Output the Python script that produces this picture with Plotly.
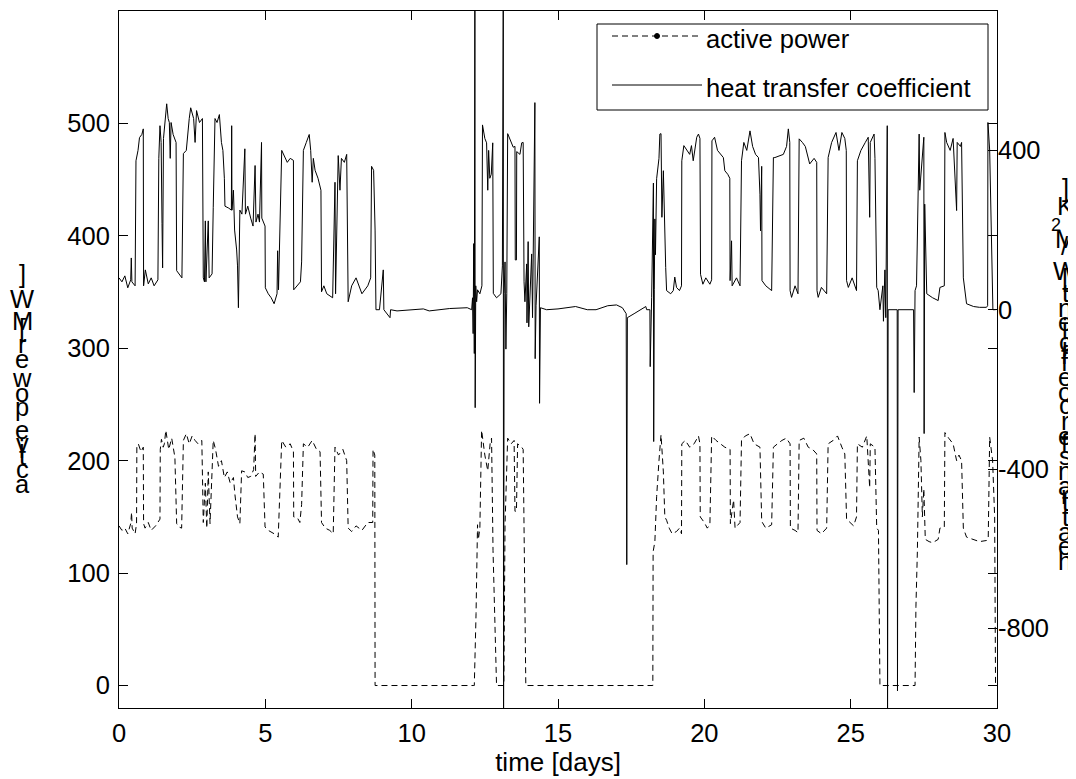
import plotly.graph_objects as go

# ---------------- data ----------------
time_power = [0.00, 0.10, 0.20, 0.30, 0.40, 0.43, 0.45, 0.55, 0.60, 0.61, 0.66, 0.75, 0.83, 0.84, 0.89, 1.00,
              1.10, 1.25, 1.40, 1.41, 1.45, 1.51, 1.55, 1.60, 1.70, 1.80, 1.91, 1.97, 2.05, 2.14, 2.20, 2.30,
              2.40, 2.50, 2.60, 2.70, 2.83, 2.88, 2.95, 3.00, 3.05, 3.11, 3.22, 3.30, 3.40, 3.50, 3.60, 3.70,
              3.80, 3.91, 3.96, 4.05, 4.13, 4.19, 4.30, 4.40, 4.50, 4.60, 4.65, 4.67, 4.80, 4.93, 4.99, 5.10,
              5.30, 5.44, 5.56, 5.70, 5.85, 5.96, 5.97, 6.10, 6.18, 6.24, 6.30, 6.45, 6.60, 6.75, 6.87, 6.92,
              7.05, 7.20, 7.32, 7.38, 7.50, 7.65, 7.78, 7.83, 7.95, 8.10, 8.30, 8.50, 8.67, 8.68, 8.74, 8.75,
              12.10, 12.14, 12.20, 12.22, 12.25, 12.28, 12.33, 12.39, 12.50, 12.60, 12.68, 12.73, 12.78, 12.90,
              13.15, 13.19, 13.28, 13.40, 13.50, 13.53, 13.58, 13.62, 13.76, 13.81, 13.90, 18.24, 18.25, 18.31,
              18.37, 18.45, 18.52, 18.60, 18.65, 18.71, 18.80, 18.90, 19.05, 19.15, 19.22, 19.23, 19.35, 19.50,
              19.65, 19.80, 19.85, 19.86, 20.00, 20.10, 20.19, 20.25, 20.40, 20.55, 20.70, 20.88, 20.89, 21.00,
              21.05, 21.22, 21.27, 21.40, 21.56, 21.70, 21.90, 21.96, 22.10, 22.30, 22.36, 22.50, 22.65, 22.80,
              22.93, 22.94, 23.10, 23.20, 23.24, 23.40, 23.55, 23.70, 23.84, 23.85, 24.00, 24.18, 24.23, 24.40,
              24.55, 24.70, 24.80, 24.86, 25.00, 25.10, 25.20, 25.23, 25.40, 25.55, 25.65, 25.67, 25.83, 25.89,
              25.95, 26.00, 27.20, 27.23, 27.28, 27.30, 27.34, 27.40, 27.45, 27.50, 27.55, 27.68, 27.80, 27.99,
              28.05, 28.20, 28.22, 28.35, 28.50, 28.62, 28.70, 28.79, 28.85, 28.96, 29.20, 29.40, 29.64, 29.70,
              29.75, 29.85, 29.92, 29.95, 30.00]
power = [142, 138, 140, 135, 144, 154, 140, 135, 144, 212, 215, 208, 212, 144, 140, 145,
         138, 142, 148, 210, 219, 212, 215, 227, 210, 220, 203, 144, 141, 140, 218, 224,
         215, 222, 218, 215, 218, 145, 180, 140, 190, 144, 218, 210, 195, 200, 185, 190,
         180, 185, 170, 150, 144, 191, 190, 185, 186, 192, 224, 186, 190, 188, 141, 138,
         135, 132, 218, 212, 215, 208, 150, 149, 145, 161, 215, 212, 218, 210, 208, 145,
         140, 138, 135, 212, 205, 210, 200, 140, 137, 142, 138, 145, 145, 210, 205, 0,
         0, 0, 64, 128, 143, 130, 140, 227, 205, 191, 215, 220, 120, 0,
         0, 143, 220, 215, 218, 155, 155, 215, 212, 210, 0, 0, 119, 128,
         168, 200, 223, 190, 150, 147, 140, 135, 137, 140, 135, 215, 218, 212,
         215, 222, 215, 150, 145, 140, 143, 222, 218, 215, 212, 210, 144, 165,
         140, 145, 218, 222, 224, 215, 212, 146, 140, 143, 212, 215, 218, 220,
         215, 140, 138, 136, 218, 220, 212, 210, 206, 138, 135, 140, 215, 218,
         222, 212, 206, 148, 144, 142, 150, 215, 212, 222, 176, 215, 212, 140,
         138, 0, 0, 70, 120, 156, 221, 200, 150, 175, 130, 128, 127, 130,
         140, 141, 225, 220, 215, 200, 205, 200, 140, 132, 130, 128, 129, 130,
         221, 200, 150, 0, 0]

time_htc = [0.00, 0.10, 0.20, 0.30, 0.40, 0.42, 0.44, 0.55, 0.58, 0.65, 0.70, 0.78, 0.83, 0.84, 0.90, 1.00,
            1.10, 1.20, 1.33, 1.36, 1.40, 1.44, 1.47, 1.49, 1.52, 1.60, 1.63, 1.68, 1.72, 1.75, 1.78, 1.85,
            1.95, 1.97, 2.05, 2.15, 2.20, 2.30, 2.40, 2.45, 2.55, 2.60, 2.65, 2.75, 2.85, 2.88, 2.92, 2.95,
            2.97, 3.05, 3.08, 3.18, 3.22, 3.28, 3.35, 3.43, 3.50, 3.55, 3.60, 3.62, 3.75, 3.84, 3.85, 3.86,
            3.91, 3.95, 4.02, 4.05, 4.08, 4.10, 4.13, 4.20, 4.30, 4.32, 4.40, 4.50, 4.58, 4.65, 4.68, 4.75,
            4.80, 4.87, 4.88, 4.99, 5.00, 5.10, 5.20, 5.30, 5.40, 5.42, 5.45, 5.56, 5.65, 5.75, 5.85, 5.96,
            5.97, 6.10, 6.20, 6.24, 6.30, 6.40, 6.50, 6.55, 6.60, 6.64, 6.70, 6.80, 6.90, 6.92, 7.00, 7.10,
            7.30, 7.38, 7.40, 7.49, 7.55, 7.60, 7.70, 7.78, 7.83, 7.95, 8.10, 8.30, 8.50, 8.60, 8.63, 8.70,
            8.75, 8.78, 8.90, 9.03, 9.05, 9.26, 9.28, 9.50, 10.40, 10.60, 11.30, 11.90, 12.05, 12.08, 12.10,
            12.12, 12.14, 12.16, 12.17, 12.19, 12.22, 12.25, 12.33, 12.40, 12.42, 12.50, 12.56, 12.60, 12.63,
            12.67, 12.72, 12.77, 12.79, 12.90, 13.05, 13.10, 13.13, 13.14, 13.16, 13.19, 13.22, 13.25, 13.28,
            13.40, 13.47, 13.53, 13.54, 13.58, 13.59, 13.70, 13.76, 13.81, 13.84, 13.87, 13.93, 13.94, 13.98,
            14.00, 14.04, 14.10, 14.13, 14.21, 14.22, 14.25, 14.36, 14.37, 14.40, 14.61, 15.00, 15.60, 16.00,
            16.30, 16.70, 17.00, 17.20, 17.33, 17.35, 17.37, 17.60, 18.00, 18.03, 18.14, 18.15, 18.17, 18.20,
            18.26, 18.27, 18.29, 18.31, 18.33, 18.37, 18.45, 18.48, 18.52, 18.55, 18.60, 18.63, 18.65, 18.68,
            18.71, 18.85, 18.94, 18.99, 19.05, 19.15, 19.22, 19.23, 19.30, 19.40, 19.50, 19.56, 19.62, 19.74,
            19.80, 19.85, 19.87, 19.95, 20.05, 20.19, 20.25, 20.26, 20.35, 20.45, 20.55, 20.65, 20.70, 20.80,
            20.87, 20.88, 20.93, 20.95, 21.10, 21.22, 21.27, 21.35, 21.45, 21.56, 21.65, 21.75, 21.85, 21.90,
            21.92, 21.96, 21.97, 22.10, 22.30, 22.36, 22.41, 22.55, 22.70, 22.81, 22.87, 22.92, 22.93, 22.98,
            23.10, 23.20, 23.24, 23.35, 23.45, 23.60, 23.75, 23.84, 23.85, 23.89, 24.00, 24.18, 24.23, 24.35,
            24.50, 24.60, 24.70, 24.80, 24.85, 24.86, 24.92, 25.05, 25.20, 25.23, 25.35, 25.50, 25.60, 25.65,
            25.67, 25.80, 25.83, 25.89, 25.94, 26.00, 26.10, 26.12, 26.17, 26.20, 26.25, 26.26, 26.28, 26.59,
            26.60, 26.62, 27.15, 27.17, 27.20, 27.25, 27.34, 27.36, 27.45, 27.50, 27.51, 27.53, 27.60, 27.80,
            27.99, 28.05, 28.20, 28.22, 28.28, 28.40, 28.50, 28.62, 28.64, 28.75, 28.79, 28.85, 28.96, 29.20,
            29.40, 29.64, 29.68, 29.69, 29.75, 29.86, 29.95]
htc = [80, 70, 85, 55, 75, 130, 70, 60, 374, 400, 432, 440, 454, 60, 100, 65,
       80, 60, 75, 380, 462, 420, 216, 105, 430, 500, 517, 480, 470, 380, 470, 440,
       420, 98, 90, 80, 392, 400, 480, 507, 480, 420, 500, 470, 480, 80, 70, 223,
       70, 223, 80, 90, 256, 480, 470, 490, 420, 400, 330, 260, 255, 250, 462, 250,
       300, 200, 150, 110, 5, 110, 250, 240, 404, 240, 260, 230, 210, 362, 220, 240,
       220, 420, 230, 210, 55, 40, 30, 15, 40, 148, 50, 400, 385, 370, 380, 375,
       50, 60, 70, 120, 400, 420, 440, 400, 320, 380, 350, 330, 300, 45, 60, 40,
       30, 320, 40, 387, 300, 380, 370, 390, 20, 60, 80, 40, 60, 80, 360, 350,
       200, 0, 0, 100, 0, -20, 0, -3, 2, -3, 3, 5, 0, 30, -60,
       166, -110, 800, -246, 60, 20, 50, 40, 60, 464, 430, 419, 300, 400,
       330, 340, 419, 41, 30, 40, 110, 800, -1100, 40, 120, -99, 40, 442,
       420, 408, 410, 125, 125, 397, 390, 419, 420, 70, 20, 115, -33, 171,
       -43, 20, 140, -20, 520, -123, 10, 183, -235, 5, 0, 2, 8, 0,
       0, 10, 12, 5, -10, -640, -20, -10, 8, 0, 0, -143, 0, 30,
       318, -331, 50, 228, 138, 329, 380, 441, 442, 232, 349, 232, 156, 106,
       48, 40, 48, 82, 56, 48, 60, 374, 412, 400, 390, 412, 374, 433,
       441, 430, 89, 64, 80, 64, 75, 424, 433, 400, 391, 382, 349, 340,
       330, 73, 173, 60, 80, 60, 374, 420, 400, 449, 410, 390, 382, 290,
       198, 360, 73, 60, 48, 382, 382, 385, 390, 410, 454, 420, 48, 31,
       60, 40, 429, 420, 410, 366, 380, 370, 48, 31, 56, 40, 382, 420,
       445, 400, 445, 430, 400, 73, 56, 80, 48, 374, 400, 420, 433, 232,
       420, 441, 380, 56, 48, 0, 60, -29, 100, -20, 462, -1100, 0, 0,
       -957, 0, 0, -208, 48, 60, 441, 300, 400, 433, -311, 265, 40, 30,
       23, 56, 60, 445, 420, 400, 430, 249, 420, 410, 420, 80, 15, 8,
       6, 6, 10, 470, 400, 0, 0]

x_ticks = [0, 5, 10, 15, 20, 25, 30]
left_ticks = [0, 100, 200, 300, 400, 500]
right_ticks = [-800, -400, 0, 400]
right_tick_text = ["-800", "-400", "0", "400"]

legend_names = ["active power", "heat transfer coefficient"]
x_title = "time [days]"
left_label = "active power [MW]"
right_label_main = "heat transfer coefficient [W/M"
right_label_sup = "2"
right_label_end = "K]"

# ---------------- layout geometry ----------------
# The page body has an 8 px margin, so the figure is placed 8 px in from the top-left corner.
OFF = 8
W, H = 1068, 771
PL, PR, PT, PB = 119, 997, 11, 708          # plot area in page pixels
L, T = PL - OFF, PT - OFF
R = W - (PR - OFF)
B = H - (PB - OFF)
PW, PH = PR - PL, PB - PT
FONT = "Liberation Sans, Arial, Helvetica, sans-serif"
FS = 25.5


def px_to_paper_x(px):
    return (px - PL) / PW


def px_to_paper_y(py):
    return (PB - py) / PH


fig = go.Figure()
fig.add_trace(go.Scatter(x=time_power, y=power, mode="lines", name=legend_names[0],
                         line=dict(color="black", width=1, dash="6px,4px"), showlegend=False,
                         yaxis="y"))
fig.add_trace(go.Scatter(x=time_htc, y=htc, mode="lines", name=legend_names[1],
                         line=dict(color="black", width=1), showlegend=False, yaxis="y2"))

axis_common = dict(showgrid=False, zeroline=False, linecolor="black", linewidth=1,
                   ticks="inside", ticklen=9, tickcolor="black", tickwidth=1,
                   tickfont=dict(family=FONT, size=FS, color="black"))

fig.update_layout(
    width=W, height=H, margin=dict(l=L, r=R, t=T, b=B, pad=0),
    paper_bgcolor="white", plot_bgcolor="white", showlegend=False,
    xaxis=dict(range=[0, 30], tickvals=x_ticks, mirror="ticks", showline=True, ticklabelstandoff=2,
               **axis_common,
               title=dict(text=x_title, font=dict(family=FONT, size=26, color="black"), standoff=6)),
    yaxis=dict(range=[-20, 600], tickvals=left_ticks, mirror="ticks", showline=True,
               ticklabelstandoff=3, **axis_common),
    yaxis2=dict(range=[-1000, 750], tickvals=right_ticks, ticktext=right_tick_text, overlaying="y",
                side="right", showline=False, **axis_common),
)

# ---------------- garbled "rotated" axis labels (characters stacked) ----------------
ADV = {'a': 556, 'c': 500, 't': 278, 'i': 222, 'v': 500, 'e': 556, ' ': 278, 'p': 556, 'o': 556,
       'w': 722, 'r': 333, '[': 278, 'M': 833, 'W': 944, ']': 278, 'h': 556, 'n': 556, 's': 500,
       'f': 278, '/': 278, 'K': 667, '2': 389}
K_ADV = 26.5  # px per em of advance
annotations = []


def stack_text(text, x_px, base_px, start=0.0, size=FS):
    cum = start
    for ch in text:
        baseline = base_px - cum * K_ADV / 1000.0
        if ch != ' ':
            annotations.append(dict(text=ch, x=px_to_paper_x(x_px), y=px_to_paper_y(baseline - 0.35 * size),
                                    xref="paper", yref="paper", xanchor="center", yanchor="middle",
                                    showarrow=False, font=dict(family=FONT, size=size, color="black")))
        cum += ADV[ch]
    return cum


stack_text(left_label, 22, 493)
c = stack_text(right_label_main, 1065, 570)
annotations.append(dict(text=right_label_sup, x=px_to_paper_x(1056), y=px_to_paper_y(225),
                        xref="paper", yref="paper", xanchor="center", yanchor="middle", showarrow=False,
                        font=dict(family=FONT, size=18, color="black")))
c += ADV['2']
stack_text(right_label_end, 1065, 570, start=c)

# ---------------- legend (drawn box) ----------------
lx0, lx1, ly0, ly1 = 597, 988, 24, 110
row_y = [36, 85]
shapes = [dict(type="rect", xref="paper", yref="paper", x0=px_to_paper_x(lx0), x1=px_to_paper_x(lx1),
               y0=px_to_paper_y(ly1), y1=px_to_paper_y(ly0), line=dict(color="black", width=1),
               fillcolor="white", layer="above")]
shapes.append(dict(type="line", xref="paper", yref="paper", x0=px_to_paper_x(612), x1=px_to_paper_x(702),
                   y0=px_to_paper_y(row_y[0]), y1=px_to_paper_y(row_y[0]),
                   line=dict(color="black", width=1, dash="6px,4px")))
shapes.append(dict(type="circle", xref="paper", yref="paper", x0=px_to_paper_x(654.5), x1=px_to_paper_x(659.5),
                   y0=px_to_paper_y(row_y[0] + 2.5), y1=px_to_paper_y(row_y[0] - 2.5),
                   line=dict(color="black", width=1), fillcolor="black"))
shapes.append(dict(type="line", xref="paper", yref="paper", x0=px_to_paper_x(612), x1=px_to_paper_x(702),
                   y0=px_to_paper_y(row_y[1]), y1=px_to_paper_y(row_y[1]),
                   line=dict(color="black", width=1)))
for name, ry in zip(legend_names, row_y):
    annotations.append(dict(text=name, x=px_to_paper_x(704), y=px_to_paper_y(ry + 3), xref="paper", yref="paper",
                            xanchor="left", yanchor="middle", showarrow=False,
                            font=dict(family=FONT, size=FS, color="black")))

fig.update_layout(annotations=annotations, shapes=shapes)
fig.write_html("out.html")
